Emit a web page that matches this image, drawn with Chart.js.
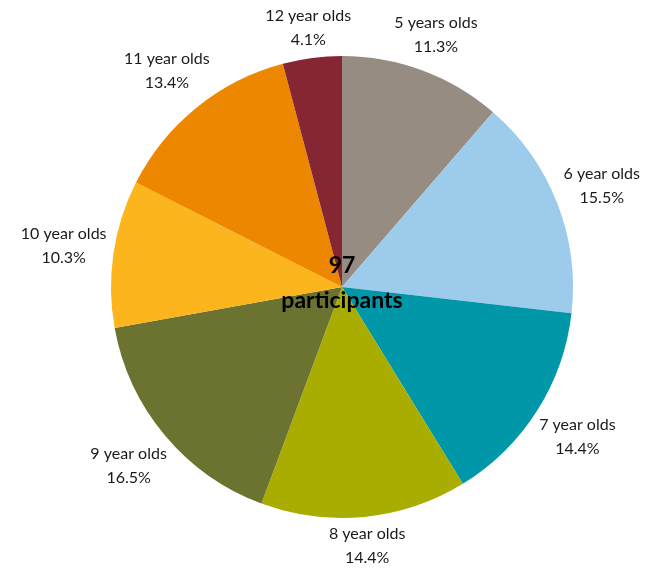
<!DOCTYPE html>
<html>
<head>
<meta charset="utf-8">
<script src="https://cdn.jsdelivr.net/npm/chart.js@4"></script>
<style>
  html, body { margin: 0; padding: 0; background: #fff; }
</style>
</head>
<body>
<canvas id="pie" width="656" height="569"></canvas>
<script>
// participants per age group (97 in total)
const ageGroups = ["5 years olds", "6 year olds", "7 year olds", "8 year olds",
  "9 year olds", "10 year olds", "11 year olds", "12 year olds"];
const counts = [11, 15, 14, 14, 16, 10, 13, 4];
const percentLabels = ["11.3%", "15.5%", "14.4%", "14.4%", "16.5%", "10.3%", "13.4%", "4.1%"];
const sliceColors = ["#978C82", "#9DCBEB", "#0097A9", "#A8AD00", "#6C722F",
  "#FDB51D", "#ED8700", "#862633"];
const total = 97;

const labelFont = "16px Lato, 'Open Sans', sans-serif";

// labels outside each slice, like the office chart
const outsideLabels = {
  id: "outsideLabels",
  afterDraw(chart) {
    const ctx = chart.ctx;
    const meta = chart.getDatasetMeta(0);
    ctx.save();
    ctx.font = labelFont;
    ctx.fillStyle = "#1a1a1a";
    ctx.textAlign = "center";
    ctx.textBaseline = "middle";
    meta.data.forEach((arc, i) => {
      const mid = (arc.startAngle + arc.endAngle) / 2;
      const w = Math.max(ctx.measureText(ageGroups[i]).width, ctx.measureText(percentLabels[i]).width);
      const halfW = w / 2, halfH = 20;
      const s = Math.cos(mid), c = Math.sin(mid);
      const d = arc.outerRadius + 5 + Math.abs(s) * halfW + Math.abs(c) * halfH;
      const x = arc.x + s * d;
      const y = arc.y + c * d;
      ctx.fillText(ageGroups[i], x, y - 12);
      ctx.fillText(percentLabels[i], x, y + 12);
    });
    // centre text
    ctx.font = "bold 23px Lato, 'Open Sans', sans-serif";
    ctx.fillStyle = "#000";
    const cx = meta.data[0].x, cy = meta.data[0].y;
    ctx.fillText(String(total), cx, cy - 21);
    ctx.fillText("participants", cx, cy + 14);
    ctx.restore();
  }
};

new Chart(document.getElementById("pie").getContext("2d"), {
  type: "pie",
  data: {
    labels: ageGroups,
    datasets: [{
      data: counts,
      backgroundColor: sliceColors,
      borderWidth: 0
    }]
  },
  options: {
    responsive: false,
    animation: false,
    layout: { padding: { left: 111, right: 83, top: 56, bottom: 51 } },
    plugins: {
      legend: { display: false },
      tooltip: { enabled: false }
    }
  },
  plugins: [outsideLabels]
});
</script>
</body>
</html>
